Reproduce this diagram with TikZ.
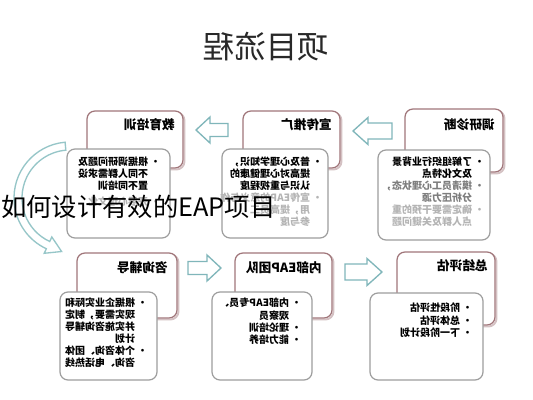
\documentclass[tikz,border=0pt]{standalone}
\usepackage{fontspec}
\setmainfont{Noto Sans CJK SC}
\usetikzlibrary{calc}
\definecolor{hdrc}{RGB}{160,118,122}
\definecolor{detc}{RGB}{158,158,158}
\definecolor{arrc}{RGB}{128,182,186}
\definecolor{curvc}{RGB}{150,198,200}
\definecolor{fadeA}{RGB}{125,125,125}
\definecolor{fadeB}{RGB}{180,180,180}
\definecolor{titc}{RGB}{40,40,40}
\newcommand\mydlist[1]{\reflectbox{\begin{tabular}{@{}l@{\hspace{2pt}}l@{}}#1\end{tabular}}}
\tikzset{
  hdrbox/.style={draw=hdrc, line width=0.95pt, fill=white, rounded corners=6pt},
  hdrshadow/.style={draw=hdrc!45, line width=1.4pt, rounded corners=6pt},
  detbox/.style={draw=detc, line width=0.9pt, fill=white, rounded corners=6pt},
  blockarr/.style={draw=arrc, line width=1pt, fill=white, line join=miter},
  curvarr/.style={draw=curvc, line width=1pt, fill=white, line join=miter},
  hdrtext/.style={anchor=east, inner sep=0pt, font=\fontsize{9.5}{11}\selectfont\bfseries},
  dettext/.style={anchor=north east, inner sep=0pt, font=\fontsize{7.5}{8.25}\selectfont\bfseries},
  dettextwide/.style={anchor=north east, inner sep=0pt, font=\fontsize{7.5}{9.2}\selectfont\bfseries},
}
\begin{document}
\begin{tikzpicture}[x=0.75pt,y=-0.75pt]
\useasboundingbox (0,0) rectangle (533,400);
\fill[white] (0,0) rectangle (533,400);

% title
\node[font=\fontsize{23.5}{25}\selectfont, text=titc, inner sep=0pt] (title) at (266,47) {\reflectbox{项目流程}};

% curved arrow (left)
\coordinate (cc) at (70,198);
\draw[curvarr] ([shift={(70,198)}]-95:56) arc[start angle=-95, end angle=-245, radius=56]
  -- ([shift={(70,198)}]115:61) -- (61.6,251.5) -- ([shift={(70,198)}]115:43)
  -- ([shift={(70,198)}]115:48) arc[start angle=-245, end angle=-95, radius=48] -- cycle;

% ---------- header boxes ----------
% top row
\draw[hdrshadow] (406.5,110.5) rectangle (504.5,173.5);
\draw[hdrbox] (405,109) rectangle (503,172);
\draw[hdrshadow] (244.5,112.5) rectangle (341.5,169.5);
\draw[hdrbox] (243,111) rectangle (340,168);
\draw[hdrshadow] (88.5,112.5) rectangle (184.5,169.5);
\draw[hdrbox] (87,111) rectangle (183,168);
% bottom row
\draw[hdrshadow] (78.5,254.5) rectangle (178.5,319.5);
\draw[hdrbox] (77,253) rectangle (177,318);
\draw[hdrshadow] (236.5,254.5) rectangle (333.5,319.5);
\draw[hdrbox] (235,253) rectangle (332,318);
\draw[hdrshadow] (398.5,253.5) rectangle (496.5,326.5);
\draw[hdrbox] (397,252) rectangle (495,325);

\node[hdrtext] (h1) at (495,125) {\reflectbox{调研诊断}};
\node[hdrtext] (h2) at (332,125) {\reflectbox{宣传推广}};
\node[hdrtext] (h3) at (175,125) {\reflectbox{教育培训}};
\node[hdrtext] (h4) at (168,268) {\reflectbox{咨询辅导}};
\node[hdrtext] (h5) at (322,268) {\reflectbox{内部EAP团队}};
\node[hdrtext] (h6) at (488,266) {\reflectbox{总结评估}};

% ---------- detail boxes ----------
\draw[detbox] (378,150) rectangle (490,240);
\draw[detbox] (222,149) rectangle (328,238);
\draw[detbox] (67,149) rectangle (170,238);
\draw[detbox] (60,292) rectangle (157,380);
\draw[detbox] (212,292) rectangle (312,380);
\draw[detbox] (370,293) rectangle (483,380);

\node[dettext] (d1) at (485,157) {\mydlist{
 •&了解组织行业背景\\
  &及文化特点\\
 \color{fadeA}•&\color{fadeA}摸清员工心理状态，\\
  &\color{fadeA}分析压力源\\
 \color{fadeB}•&\color{fadeB}确定需要干预的重\\
  &\color{fadeB}点人群及关键问题}};
\node[dettext] (d2) at (323,157) {\mydlist{
 •&普及心理学知识，\\
  &提高对心理健康的\\
  &认识与重视程度\\
 \color{fadeB}•&\color{fadeB}宣传EAP的意义与作\\
  &\color{fadeB}用，提高员工\\
  &\color{fadeB}参与度}};
\node[dettext] (d3) at (161,157) {\mydlist{
 •&根据调研问题及\\
  &不同人群需求设\\
  &置不同培训\\[3pt]
 \color{fadeB}•&\color{fadeB}开展心理文化}};
\node[dettext] (d4) at (148,298) {\mydlist{
 •&根据企业实际和\\
  &现实需要，制定\\
  &并实施咨询辅导\\
  &计划\\
 •&个体咨询、团体\\
  &咨询、电话热线}};
\node[dettextwide] (d5) at (302,298) {\mydlist{
 •&内部EAP专员、\\
  &观察员\\
 •&理论培训\\
 •&能力培养}};
\node[dettextwide] (d6) at (473,303) {\mydlist{
 •&阶段性评估\\
 •&总体评估\\
 •&下一阶段计划}};

% ---------- block arrows ----------
% top row, pointing left
\draw[blockarr] (196,130) -- (210,117) -- (210,123.5) -- (228,123.5) -- (228,136.5) -- (210,136.5) -- (210,143) -- cycle;
\draw[blockarr] (353,131) -- (368,117.5) -- (368,123) -- (392,123) -- (392,139) -- (368,139) -- (368,144.5) -- cycle;
% bottom row, pointing right
\draw[blockarr] (221,268) -- (207,255) -- (207,261.5) -- (188,261.5) -- (188,274.5) -- (207,274.5) -- (207,281) -- cycle;
\draw[blockarr] (382,272) -- (367,258.5) -- (367,264) -- (345,264) -- (345,280) -- (367,280) -- (367,285.5) -- cycle;

% overlay caption
\node[anchor=west, inner sep=0pt, font=\fontsize{19}{21}\selectfont] (cap) at (1,207) {如何设计有效的EAP项目};
\end{tikzpicture}
\end{document}
